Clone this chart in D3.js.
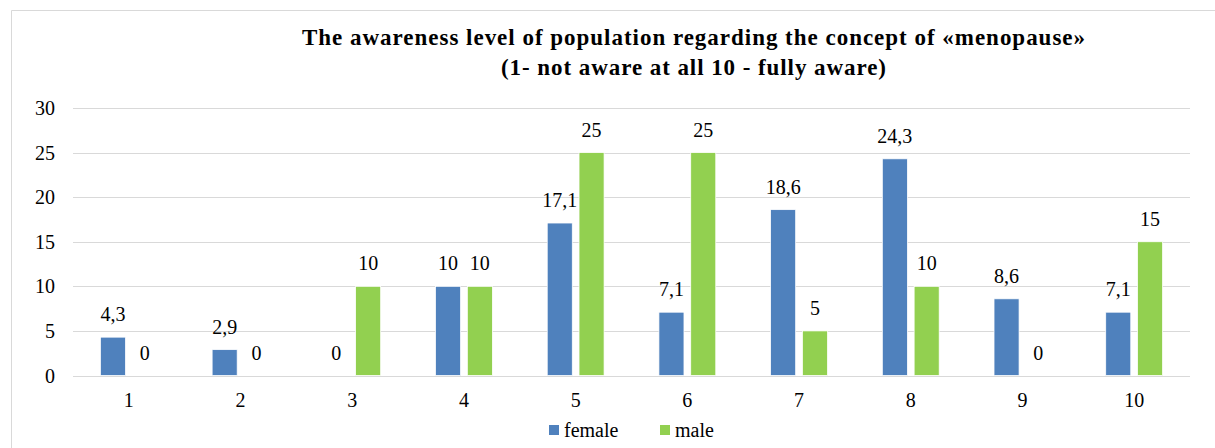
<!DOCTYPE html>
<html><head><meta charset="utf-8">
<script src="https://cdn.jsdelivr.net/npm/d3@7"></script>
<style>svg text, text { font-family: "Liberation Serif", "Times New Roman", Tinos, serif !important; }</style>
</head><body style="margin:0;background:#fff"><svg id="c" width="1215" height="448"></svg>
<script>
const categories = ["1","2","3","4","5","6","7","8","9","10"];
const female = [4.3, 2.9, 0, 10, 17.1, 7.1, 18.6, 24.3, 8.6, 7.1];
const male = [0, 0, 10, 10, 25, 25, 5, 10, 0, 15];
const yTicks = [0, 5, 10, 15, 20, 25, 30];
const seriesNames = ["female", "male"];
const colors = ["#4f81bd", "#92d050"];
const titleLines = ["The awareness level of population regarding the concept of «menopause»", "(1- not aware at all 10 - fully aware)"];

const FONT = '"Liberation Serif", "Times New Roman", Tinos, serif';
const svg = d3.select("#c");
function font(sel, size, weight) {
  sel.attr("font-family", FONT).style("font-family", FONT, "important")
     .attr("font-size", size).style("font-size", size + "px", "important")
     .attr("font-weight", weight || "normal").style("font-weight", weight || "normal", "important")
     .attr("fill", "#000");
}
svg.append("path").attr("d","M11.5,448 V10.5 H1215").attr("fill","none").attr("stroke","#d9d9d9").attr("stroke-width",1);

const x0 = d3.scaleBand().domain(categories).range([73, 1190]).paddingInner(0).paddingOuter(0);
const y = d3.scaleLinear().domain([0, 30]).range([375.5, 108]);
const bw = x0.bandwidth() / (2 + 0.27 + 2.19);
const gap = 0.27 * bw;

svg.append("g").selectAll("line").data(yTicks).join("line")
  .attr("x1", 73).attr("x2", 1190)
  .attr("y1", d => Math.round(y(d)) + 0.5).attr("y2", d => Math.round(y(d)) + 0.5)
  .attr("stroke", "#d9d9d9").attr("stroke-width", 1);

const yAxis = d3.axisLeft(y).tickValues(yTicks).tickSize(0).tickPadding(0);
const gy = svg.append("g").attr("transform", "translate(55,0)").call(yAxis);
gy.select(".domain").remove();
gy.attr("font-family", FONT).attr("font-size", 20);
font(gy.selectAll("text").attr("dy", "0.33em"), 20);

const xAxis = d3.axisBottom(x0).tickSize(0).tickPadding(0);
const gx = svg.append("g").attr("transform", "translate(0,407)").call(xAxis);
gx.select(".domain").remove();
gx.attr("font-family", FONT).attr("font-size", 20);
font(gx.selectAll("text").attr("dy", "0"), 20);

[female, male].forEach((vals, si) => {
  const g = svg.append("g");
  const data = categories.map((c, i) => ({c, v: vals[i]}));
  const bx = d => x0(d.c) + x0.bandwidth()/2 + (si === 0 ? -gap/2 - bw : gap/2);
  g.selectAll("rect").data(data.filter(d => d.v > 0)).join("rect")
    .attr("x", bx).attr("width", bw)
    .attr("y", d => y(d.v)).attr("height", d => y(0) - y(d.v))
    .attr("fill", colors[si]).attr("stroke", "#fff").attr("stroke-width", 0.75);
  font(g.selectAll("text").data(data).join("text")
    .attr("x", d => bx(d) + bw/2).attr("y", d => y(d.v) - 16)
    .attr("text-anchor", "middle")
    .text(d => String(d.v).replace(".", ",")), 20);
});

const titleWidths = [783, 385];
font(svg.append("g").selectAll("text").data(titleLines).join("text")
  .attr("x", 693.5).attr("y", (d, i) => 45 + i * 30)
  .attr("text-anchor", "middle")
  .attr("textLength", (d, i) => titleWidths[i]).attr("lengthAdjust", "spacing")
  .text(d => d), 23, "bold");

const lg = svg.append("g");
const lx = [549, 660];
seriesNames.forEach((n, i) => {
  lg.append("rect").attr("x", lx[i]).attr("y", 425).attr("width", 10).attr("height", 10).attr("fill", colors[i]);
  font(lg.append("text").attr("x", lx[i] + 15).attr("y", 437).text(n), 20);
});

function enforce() {
  d3.selectAll("text").each(function () {
    const el = d3.select(this);
    if (el.style("font-family").indexOf("Liberation Serif") < 0) el.style("font-family", FONT, "important");
  });
}
enforce();
new MutationObserver(enforce).observe(document.documentElement, {attributes: true, subtree: true, attributeFilter: ["style", "font-family"]});
setTimeout(enforce, 0);
</script></body></html>
